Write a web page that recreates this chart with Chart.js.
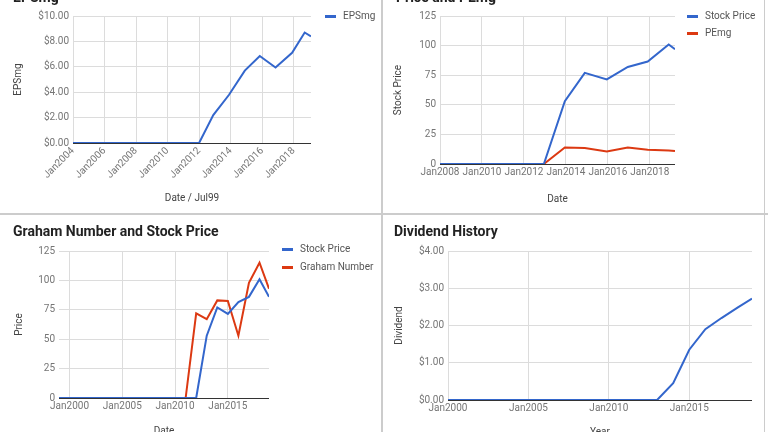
<!DOCTYPE html>
<html><head><meta charset="utf-8">
<script src="https://cdn.jsdelivr.net/npm/chart.js@4/dist/chart.umd.min.js"></script>
<style>
body{margin:0;background:#fff;font-family:Roboto,sans-serif;width:768px;height:432px;overflow:hidden;position:relative}
.p{position:absolute;overflow:hidden}
.p canvas{position:absolute;left:0;top:0}
.t{position:absolute;font-weight:bold;font-size:14px;color:#222;white-space:nowrap}
.lg{position:absolute;font-size:10px;color:#555;white-space:nowrap}
.lg span{display:inline-block;width:11px;height:3px;vertical-align:middle;margin-right:7px}
.vl{position:absolute;background:#ccc}
</style></head><body>
<div class="vl" style="left:381px;top:0;width:2px;height:432px"></div>
<div class="vl" style="left:0;top:213px;width:768px;height:2px"></div>
<div class="vl" style="left:764px;top:0;width:1px;height:432px"></div>

<div class="p" id="p1" style="left:0;top:0;width:381px;height:213px"><canvas id="c1"></canvas>
 <div class="t" style="left:13px;top:-11px">EPSmg</div>
 <div class="lg" style="left:325px;top:10px"><span style="background:#3366cc"></span>EPSmg</div></div>
<div class="p" id="p2" style="left:383px;top:0;width:381px;height:213px"><canvas id="c2"></canvas>
 <div class="t" style="left:13px;top:-11px">Price and PEmg</div>
 <div class="lg" style="left:304px;top:10px"><span style="background:#3366cc"></span>Stock Price</div>
 <div class="lg" style="left:304px;top:27px"><span style="background:#dc3912"></span>PEmg</div></div>
<div class="p" id="p3" style="left:0;top:215px;width:381px;height:217px"><canvas id="c3"></canvas>
 <div class="t" style="left:13px;top:8px">Graham Number and Stock Price</div>
 <div class="lg" style="left:282px;top:28px"><span style="background:#3366cc"></span>Stock Price</div>
 <div class="lg" style="left:282px;top:46px"><span style="background:#dc3912"></span>Graham Number</div></div>
<div class="p" id="p4" style="left:383px;top:215px;width:381px;height:217px"><canvas id="c4"></canvas>
 <div class="t" style="left:11px;top:8px">Dividend History</div></div>

<script>
// Panel 1: EPSmg
const epsYears = [2004,2005,2006,2007,2008,2009,2010,2011,2012,2012.9,2013.9,2014.9,2015.85,2016.85,2017.9,2018.7,2019.1];
const epsValues = [0,0,0,0,0,0,0,0,0,2.2,3.8,5.7,6.85,5.95,7.1,8.7,8.4];
const epsTicks = [2004,2006,2008,2010,2012,2014,2016,2018];
// Panel 2: Price and PEmg
const pYears = [2008,2009,2010,2011,2012,2012.95,2013.95,2014.9,2015.95,2016.95,2017.9,2018.9,2019.2];
const pPrice = [0,0,0,0,0,0,53,77,71.5,82,86.5,101,97];
const pPEmg = [0,0,0,0,0,0,14,13.5,10.5,14,12,11.5,11];
const pTicks = [2008,2010,2012,2014,2016,2018];
// Panel 3: Graham Number and Stock Price
const gYears = [1999,2000,2001,2002,2003,2004,2005,2006,2007,2008,2009,2010,2011,2012,2013,2014,2015,2016,2017,2018,2018.9];
const gPrice = [0,0,0,0,0,0,0,0,0,0,0,0,0,0,53,77,71.5,81.5,86,101,86];
const gGraham = [0,0,0,0,0,0,0,0,0,0,0,0,0,72,67,83,82.5,53,98,115,93];
const gTicks = [2000,2005,2010,2015];
// Panel 4: Dividend History
const dYears = [2000,2002,2004,2006,2008,2010,2012,2013,2014,2015,2016,2017,2018,2018.9];
const dValues = [0,0,0,0,0,0,0,0,0.45,1.35,1.9,2.2,2.48,2.72];
const dTicks = [2000,2005,2010,2015];

const BLUE='#3366cc', RED='#dc3912';
const tickFont={family:'Roboto',size:10};
function pts(xs,ys){return xs.map((x,i)=>({x:x,y:ys[i]}));}
function make(id,W,H,box,titleY,ytX,datasets,xmin,xmax,xticks,rot,ymin,ymax,ystep,yfmt,ytitle,xtitle){
  const CH=Math.max(H,titleY+8);
  const c=document.getElementById(id); c.width=W; c.height=CH; c.style.width=W+'px'; c.style.height=CH+'px';
  new Chart(c,{type:'line',data:{datasets:datasets.map(d=>({data:d.data,borderColor:d.color,backgroundColor:d.color,borderWidth:2,pointRadius:0,tension:0,fill:false}))},
  options:{responsive:false,animation:false,devicePixelRatio:1,
    layout:{padding:{top:box.top,right:W-box.right,left:ytX,bottom:CH-titleY-7}},
    plugins:{legend:{display:false},tooltip:{enabled:false}},
    scales:{
      x:{type:'linear',min:xmin,max:xmax,
        afterBuildTicks:a=>{a.ticks=xticks.map(v=>({value:v}));},
        afterFit:a=>{a.height=titleY+7-box.bottom;},
        ticks:{callback:v=>'Jan'+v,font:tickFont,color:'#757575',maxRotation:rot,minRotation:rot,autoSkip:false,padding:2},
        grid:{color:'#dcdcdc',drawTicks:false},border:{display:false},
        title:{display:true,text:xtitle,font:tickFont,color:'#444',padding:0}},
      y:{min:ymin,max:ymax,
        afterFit:a=>{a.width=box.left-ytX;},
        ticks:{stepSize:ystep,callback:yfmt,font:tickFont,color:'#757575',padding:4},
        grid:{color:c2=>c2.tick.value===0?'#333':'#dcdcdc',drawTicks:false},border:{display:false},
        title:{display:true,text:ytitle,font:tickFont,color:'#444',padding:0}}
    }}});
}
const money=v=>'$'+v.toFixed(2);
make('c1',381,213,{left:73,top:16,right:311,bottom:143},197,12,[{data:pts(epsYears,epsValues),color:BLUE}],2004,2019.1,epsTicks,45,0,10,2,money,'EPSmg','Date / Jul99');
make('c2',381,213,{left:57,top:16,right:292,bottom:164},198,9,[{data:pts(pYears,pPrice),color:BLUE},{data:pts(pYears,pPEmg),color:RED}],2008,2019.2,pTicks,0,0,125,25,v=>v,'Stock Price','Date');
make('c3',381,217,{left:59,top:36,right:269,bottom:183},215,13,[{data:pts(gYears,gPrice),color:BLUE},{data:pts(gYears,gGraham),color:RED}],1999,2018.9,gTicks,0,0,125,25,v=>v,'Price','Date');
make('c4',381,217,{left:65,top:36,right:369,bottom:185},216,10,[{data:pts(dYears,dValues),color:BLUE}],2000,2018.9,dTicks,0,0,4,1,money,'Dividend','Year');
</script></body></html>
